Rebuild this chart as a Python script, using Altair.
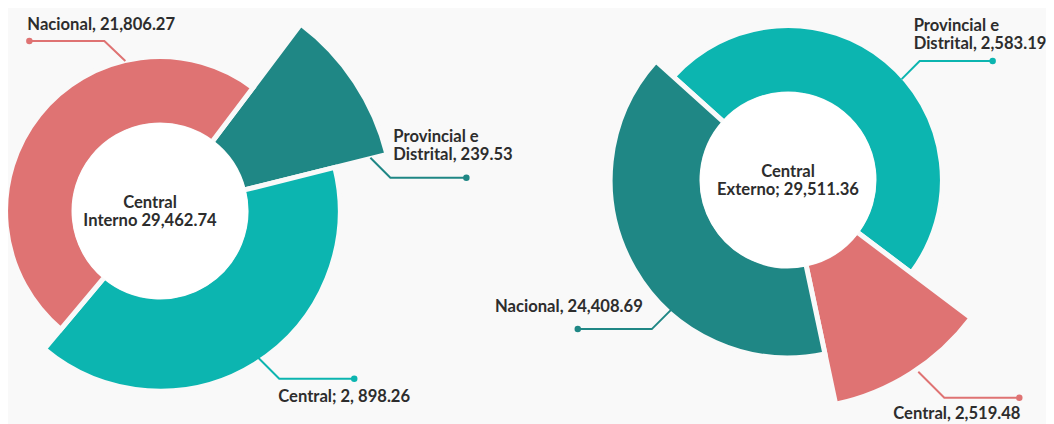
import math
import altair as alt
import pandas as pd

# ---------------- data ----------------
left_center_lines = ["Central", "Interno 29,462.74"]
right_center_lines = ["Central", "Externo; 29,511.36"]

left_keys = ["Provincial e Distrital", "Central", "Nacional"]
left_text = [["Provincial e", "Distrital, 239.53"], ["Central; 2, 898.26"], ["Nacional, 21,806.27"]]
left_share = [39, 144, 177]     # angular extent of each slice (degrees, as drawn)
left_reach = [100, 77, 66]      # outer radius of each slice relative to the largest (%)

right_keys = ["Provincial e Distrital", "Central", "Nacional"]
right_text = [["Provincial e", "Distrital, 2,583.19"], ["Central, 2,519.48"], ["Nacional, 24,408.69"]]
right_share = [175, 41, 144]
right_reach = [66, 98, 76]

# ---------------- styles / layout ----------------
PINK = "#df7373"
DARK = "#1f8785"
TEAL = "#0cb5b0"
BG = "#f9f9f9"
INK = "#2d2d2d"
FONT = "Lato"
FS = 16.6
LH = 18.5

left_colors = [DARK, TEAL, PINK]
right_colors = [TEAL, PINK, DARK]

W, H = 1038, 416
M = 8
XS = alt.Scale(domain=[M, M + W], range=[0, W])
YS = alt.Scale(domain=[M, M + H], range=[0, H])
R_MAX = 234
INNER = 86
HOLE = 88

left_leaders = [
    dict(ang=75.8, r=217, diag=(20, 20), run=76, tx=3, ty=-17.5, align="left"),
    dict(ang=146.2, r=176.6, diag=(21, 21), run=75, tx=-1, ty=23, align="left"),
    dict(ang=347, r=154, diag=(-21, -20), run=-75, tx=-77, ty=-11, align="left"),
]
right_leaders = [
    dict(ang=48.4, r=152, diag=(18, -18), run=73, tx=-6, ty=-12, align="left"),
    dict(ang=145.8, r=231.8, diag=(26, 26), run=75, tx=-51, ty=21, align="left"),
    dict(ang=222, r=173.7, diag=(-20, 20), run=-74, tx=-9, ty=-17, align="right"),
]


def X(f):
    return alt.X(f, type="quantitative", scale=XS, axis=None)


def Y(f):
    return alt.Y(f, type="quantitative", scale=YS, axis=None)


def donut(keys, text, share, reach, colors, center, start_deg, center_lines, text_shift, leaders):
    cx, cy = center
    ends = pd.Series(share).cumsum()
    df = pd.DataFrame({"key": keys, "a0": (ends - pd.Series(share)).tolist(), "a1": ends.tolist(),
                       "reach": reach, "color": colors})
    r0 = math.radians(start_deg)
    arcs = alt.Chart(df).mark_arc(
        x=cx - M, y=cy - M, innerRadius=INNER, stroke=BG, strokeWidth=5
    ).encode(
        theta=alt.Theta("a0:Q", scale=alt.Scale(domain=[0, 360], range=[r0, r0 + 2 * math.pi])),
        theta2=alt.Theta2("a1:Q"),
        radius=alt.Radius("reach:Q", scale=alt.Scale(type="linear", domain=[0, 100], range=[0, R_MAX])),
        color=alt.Color("color:N", scale=None),
    )
    hole = alt.Chart(pd.DataFrame({"k": [0]})).mark_arc(
        x=cx - M, y=cy - M, radius=HOLE, theta=0, theta2=2 * math.pi
    ).encode(color=alt.value("#ffffff"))

    ctr = pd.DataFrame({
        "x": [cx + text_shift] * len(center_lines),
        "y": [cy - 3.5 + i * 18 for i in range(len(center_lines))],
        "t": center_lines,
    })
    ctext = alt.Chart(ctr).mark_text(
        font=FONT, fontSize=FS, fontWeight="bold", color=INK, align="center", baseline="alphabetic"
    ).encode(x=X("x"), y=Y("y"), text="t:N")

    line_rows, dot_rows, txt_left, txt_right = [], [], [], []
    for k, lines, col, ld in zip(keys, text, colors, leaders):
        a = math.radians(ld["ang"])
        sx, sy = cx + ld["r"] * math.sin(a), cy - ld["r"] * math.cos(a)
        ex, ey = sx + ld["diag"][0], sy + ld["diag"][1]
        dx_, dy_ = ex + ld["run"], ey
        for s, (px, py) in enumerate([(sx, sy), (ex, ey), (dx_, dy_)]):
            line_rows.append({"key": k, "seq": s, "x": px, "y": py, "color": col})
        dot_rows.append({"key": k, "x": dx_, "y": dy_, "color": col})
        n = len(lines)
        for j, t in enumerate(lines):
            row = {"x": ex + ld["tx"], "y": ey + ld["ty"] - (n - 1 - j) * LH, "t": t}
            (txt_left if ld["align"] == "left" else txt_right).append(row)

    leader = alt.Chart(pd.DataFrame(line_rows)).mark_line(strokeWidth=2).encode(
        x=X("x"), y=Y("y"), detail="key:N", order="seq:Q",
        color=alt.Color("color:N", scale=None),
    )
    dots = alt.Chart(pd.DataFrame(dot_rows)).mark_circle(size=42, opacity=1).encode(
        x=X("x"), y=Y("y"), color=alt.Color("color:N", scale=None),
    )
    layers = [arcs, hole, ctext, leader, dots]
    for rows, al in ((txt_left, "left"), (txt_right, "right")):
        if rows:
            layers.append(alt.Chart(pd.DataFrame(rows)).mark_text(
                font=FONT, fontSize=FS, fontWeight="bold", color=INK, align=al, baseline="alphabetic"
            ).encode(x=X("x"), y=Y("y"), text="t:N"))
    return layers


layers = []
layers += donut(left_keys, left_text, left_share, left_reach, left_colors,
                (160, 211), 37, left_center_lines, -10, left_leaders)
layers += donut(right_keys, right_text, right_share, right_reach, right_colors,
                (788, 180), 312, right_center_lines, 0, right_leaders)

chart = alt.layer(*layers).properties(
    width=W, height=H, background=BG, padding=0, autosize="none"
).resolve_scale(theta="independent", radius="independent").configure_view(stroke=None)

chart.save("out.html", embed_options={"renderer": "svg", "actions": False})
